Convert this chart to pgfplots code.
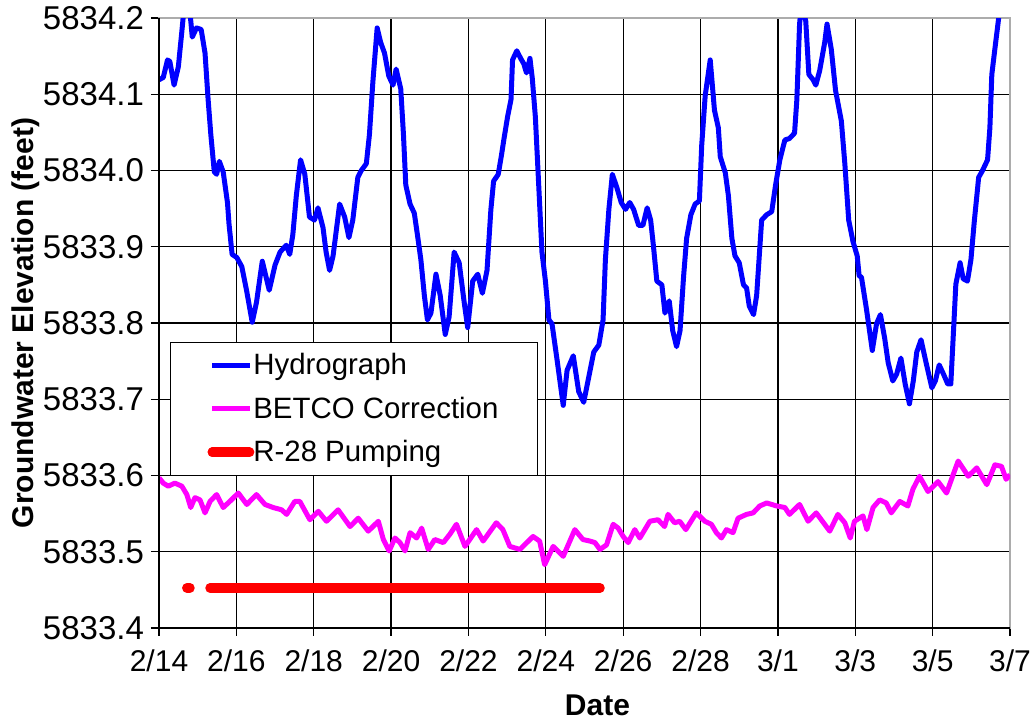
\documentclass[border=0pt]{standalone}
\usepackage{pgfplots}
\pgfplotsset{compat=1.18}
\usepackage{pgfplotstable}
\usepackage{fontspec}
\setmainfont{Liberation Sans}
\definecolor{hydroblue}{RGB}{0,0,255}
\definecolor{betcomag}{RGB}{255,0,255}
\definecolor{pumpred}{RGB}{255,0,0}

\pgfplotstableread{
d e
0.00 5834.119
0.11 5834.122
0.22 5834.145
0.28 5834.143
0.39 5834.112
0.50 5834.136
0.59 5834.182
0.68 5834.23
0.76 5834.23
0.86 5834.175
0.97 5834.187
1.09 5834.185
1.19 5834.154
1.27 5834.093
1.34 5834.047
1.43 5833.998
1.49 5833.995
1.56 5834.012
1.66 5833.998
1.77 5833.958
1.81 5833.930
1.89 5833.890
2.01 5833.886
2.14 5833.874
2.27 5833.841
2.41 5833.801
2.52 5833.827
2.67 5833.881
2.85 5833.843
3.00 5833.876
3.13 5833.893
3.20 5833.897
3.29 5833.902
3.38 5833.890
3.46 5833.916
3.55 5833.967
3.66 5834.014
3.77 5833.995
3.89 5833.939
4.02 5833.935
4.11 5833.951
4.24 5833.925
4.32 5833.893
4.41 5833.869
4.50 5833.888
4.67 5833.956
4.80 5833.939
4.91 5833.912
5.01 5833.935
5.14 5833.991
5.23 5834.000
5.36 5834.009
5.44 5834.047
5.53 5834.117
5.64 5834.187
5.73 5834.168
5.83 5834.154
5.94 5834.124
6.05 5834.112
6.13 5834.133
6.25 5834.107
6.32 5834.047
6.38 5833.981
6.49 5833.956
6.60 5833.944
6.68 5833.916
6.77 5833.883
6.86 5833.836
6.94 5833.804
7.03 5833.813
7.16 5833.864
7.27 5833.836
7.40 5833.785
7.50 5833.808
7.63 5833.893
7.76 5833.879
7.89 5833.827
7.98 5833.794
8.11 5833.855
8.24 5833.864
8.36 5833.839
8.48 5833.869
8.58 5833.949
8.65 5833.986
8.77 5833.995
8.85 5834.019
8.92 5834.042
9.01 5834.070
9.10 5834.093
9.14 5834.145
9.25 5834.157
9.35 5834.147
9.43 5834.140
9.50 5834.128
9.59 5834.147
9.65 5834.121
9.73 5834.070
9.82 5833.977
9.90 5833.893
9.99 5833.855
10.08 5833.804
10.16 5833.799
10.29 5833.752
10.45 5833.692
10.55 5833.738
10.71 5833.757
10.85 5833.710
10.98 5833.696
11.11 5833.729
11.24 5833.762
11.37 5833.771
11.48 5833.804
11.54 5833.883
11.63 5833.949
11.72 5833.995
11.84 5833.977
11.95 5833.958
12.06 5833.949
12.17 5833.958
12.27 5833.949
12.40 5833.928
12.51 5833.928
12.62 5833.951
12.71 5833.935
12.78 5833.902
12.87 5833.855
13.00 5833.850
13.08 5833.813
13.19 5833.829
13.28 5833.790
13.38 5833.769
13.47 5833.790
13.56 5833.860
13.64 5833.911
13.75 5833.942
13.86 5833.956
13.97 5833.960
14.03 5834.033
14.12 5834.098
14.25 5834.145
14.36 5834.079
14.46 5834.056
14.51 5834.018
14.64 5833.997
14.72 5833.967
14.81 5833.911
14.89 5833.888
15.00 5833.879
15.11 5833.850
15.19 5833.846
15.26 5833.822
15.37 5833.811
15.45 5833.836
15.58 5833.935
15.71 5833.942
15.84 5833.946
15.94 5833.981
16.05 5834.014
16.18 5834.040
16.30 5834.042
16.43 5834.049
16.49 5834.093
16.56 5834.192
16.61 5834.22
16.72 5834.196
16.80 5834.126
16.91 5834.119
16.98 5834.112
17.08 5834.131
17.21 5834.168
17.27 5834.192
17.38 5834.159
17.49 5834.105
17.64 5834.065
17.73 5834.009
17.83 5833.935
17.94 5833.907
18.05 5833.888
18.10 5833.862
18.16 5833.860
18.29 5833.818
18.44 5833.764
18.55 5833.799
18.65 5833.811
18.76 5833.780
18.85 5833.748
18.97 5833.724
19.07 5833.733
19.18 5833.754
19.29 5833.720
19.40 5833.694
19.50 5833.724
19.59 5833.762
19.70 5833.778
19.83 5833.748
19.98 5833.715
20.07 5833.724
20.17 5833.745
20.28 5833.733
20.39 5833.720
20.47 5833.720
20.54 5833.790
20.60 5833.851
20.71 5833.879
20.79 5833.858
20.90 5833.855
20.99 5833.883
21.08 5833.935
21.19 5833.991
21.29 5834.000
21.42 5834.014
21.48 5834.056
21.53 5834.126
21.62 5834.164
21.71 5834.201
21.77 5834.23
}\hydro

\pgfplotstableread{
d e
0.00 5833.597
0.11 5833.590
0.24 5833.586
0.41 5833.590
0.59 5833.586
0.72 5833.575
0.82 5833.558
0.93 5833.571
1.06 5833.568
1.19 5833.551
1.32 5833.566
1.49 5833.575
1.66 5833.558
1.83 5833.566
2.05 5833.577
2.27 5833.562
2.52 5833.575
2.74 5833.562
2.95 5833.558
3.17 5833.555
3.30 5833.549
3.51 5833.566
3.64 5833.566
3.90 5833.542
4.12 5833.553
4.33 5833.540
4.63 5833.555
4.94 5833.533
5.15 5833.544
5.41 5833.527
5.67 5833.540
5.80 5833.516
5.95 5833.501
6.10 5833.518
6.23 5833.512
6.36 5833.501
6.49 5833.525
6.66 5833.518
6.79 5833.531
6.96 5833.503
7.13 5833.516
7.35 5833.512
7.52 5833.523
7.69 5833.536
7.91 5833.507
8.21 5833.529
8.38 5833.514
8.72 5833.538
8.89 5833.529
9.07 5833.507
9.33 5833.503
9.67 5833.520
9.84 5833.514
9.97 5833.483
10.19 5833.507
10.45 5833.494
10.75 5833.529
10.96 5833.516
11.14 5833.514
11.27 5833.512
11.40 5833.503
11.57 5833.509
11.74 5833.536
11.87 5833.531
12.00 5833.520
12.13 5833.512
12.30 5833.529
12.43 5833.518
12.69 5833.540
12.90 5833.542
13.07 5833.533
13.16 5833.549
13.33 5833.538
13.46 5833.540
13.62 5833.529
13.89 5833.551
14.11 5833.540
14.28 5833.536
14.41 5833.525
14.54 5833.518
14.67 5833.529
14.84 5833.525
14.97 5833.544
15.19 5833.549
15.36 5833.551
15.53 5833.560
15.71 5833.564
15.97 5833.560
16.18 5833.558
16.30 5833.549
16.56 5833.562
16.78 5833.540
16.99 5833.551
17.34 5833.527
17.55 5833.549
17.73 5833.538
17.87 5833.518
17.98 5833.540
18.20 5833.547
18.30 5833.529
18.46 5833.558
18.63 5833.568
18.80 5833.564
18.93 5833.551
19.15 5833.566
19.36 5833.560
19.49 5833.582
19.66 5833.599
19.88 5833.579
20.14 5833.592
20.36 5833.577
20.53 5833.601
20.66 5833.619
20.92 5833.599
21.14 5833.610
21.40 5833.588
21.61 5833.614
21.78 5833.612
21.90 5833.595
22.00 5833.601
}\betco

\begin{document}
\begin{tikzpicture}
\path[use as bounding box] (-79.5pt,-46.5pt) rectangle (437pt,314pt);
\begin{axis}[
  at={(0,0)}, anchor=south west,
  width=425.5pt, height=305pt, scale only axis,
  xmin=0, xmax=22, ymin=5833.4, ymax=5834.2,
  xtick={0,2,4,6,8,10,12,14,16,18,20,22},
  xticklabels={2/14,2/16,2/18,2/20,2/22,2/24,2/26,2/28,3/1,3/3,3/5,3/7},
  ytick={5833.4,5833.5,5833.6,5833.7,5833.8,5833.9,5834.0,5834.1,5834.2},
  grid=major, major grid style={black, line width=0.6pt},
  axis line style={gray!65, line width=0.8pt},
  tick pos=left, tick align=outside, major tick length=4pt,
  tick style={black, line width=0.6pt},
  /pgf/number format/assume math mode=true,
  xticklabel style={font=\fontsize{15}{18}\selectfont, yshift=-3.5pt},
  yticklabel style={font=\fontsize{16.5}{19}\selectfont, /pgf/number format/.cd, fixed, fixed zerofill, precision=1, 1000 sep={}},
  xlabel={Date}, ylabel={Groundwater Elevation (feet)},
  label style={font=\fontsize{15}{18}\selectfont\bfseries},
  xlabel style={xshift=6.5pt, yshift=-4.5pt},
  ylabel style={yshift=-5pt},
  unbounded coords=jump,
  legend cell align=left,
  legend style={at={(axis description cs:0.013,0.469)}, anchor=north west,
    draw=black, line width=0.6pt, fill=white,
    font=\fontsize{14.7}{17}\selectfont,
    nodes={inner xsep=1pt},
    inner xsep=18.5pt, inner ysep=3.5pt, row sep=5.5pt},
  legend image code/.code={\path (0cm,0cm) -- ([xshift=-2pt]0.67cm,0cm); \draw[#1,overlay] (0cm,0cm) -- ([xshift=-0.5pt]0.67cm,0cm);},
  after end axis/.code={\draw[black, line width=0.8pt] (rel axis cs:0,1) -- (rel axis cs:0,0) -- (rel axis cs:1,0);},
]
\addplot[hydroblue, line width=2.5pt, line join=round] table[x=d, y=e] {\hydro};
\addlegendentry{Hydrograph}
\addplot[betcomag, line width=2.5pt, line join=round] table[x=d, y=e] {\betco};
\addlegendentry{BETCO Correction\hspace{4pt}}
\addplot[pumpred, line width=4.8pt, line cap=round] coordinates {(0.72,5833.4525) (0.80,5833.4525) (1.0,nan) (1.32,5833.4525) (11.40,5833.4525)};
\addlegendentry{R-28 Pumping}
\end{axis}
\end{tikzpicture}
\end{document}
